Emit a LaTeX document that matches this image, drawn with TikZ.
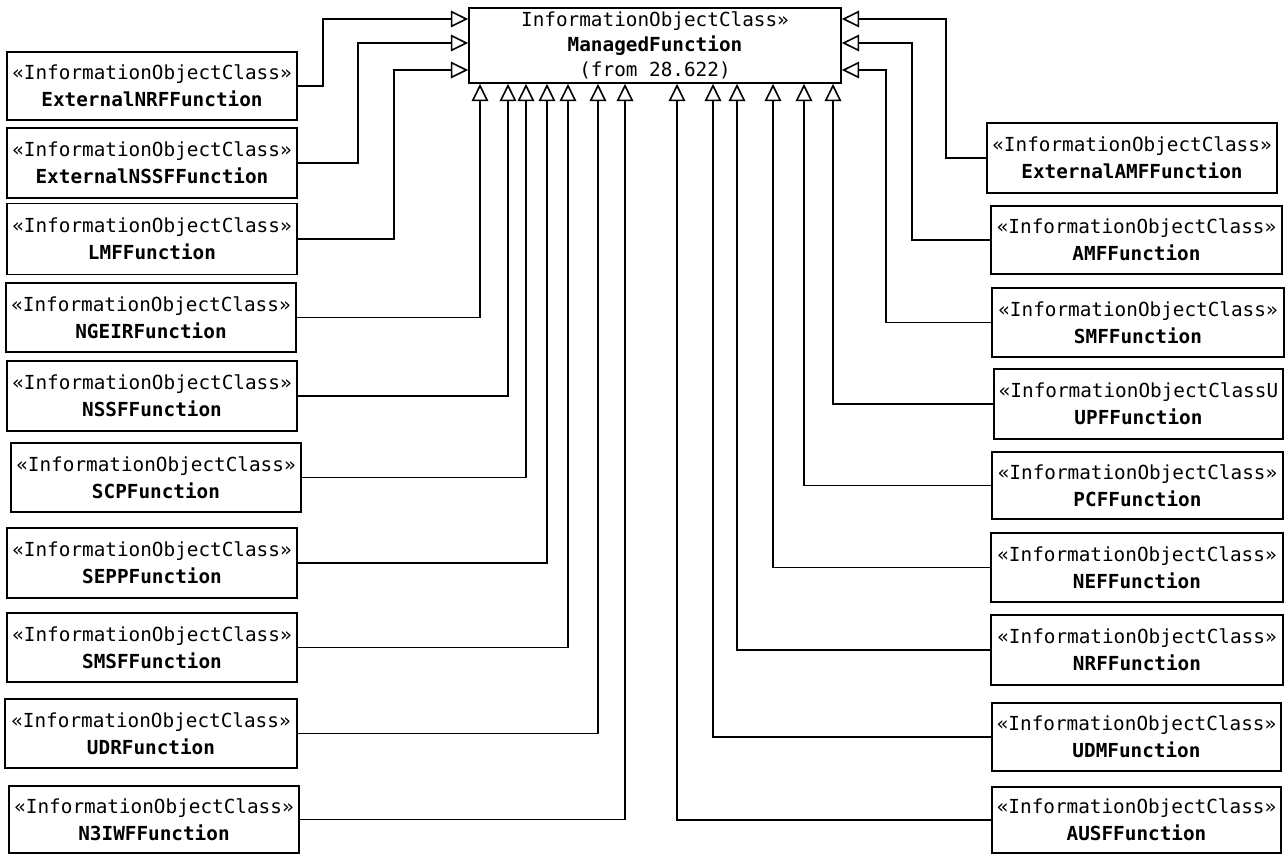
\documentclass[tikz,border=0pt]{standalone}
\usepackage{fontspec}
\setmainfont{DejaVu Sans Mono}
\usetikzlibrary{arrows.meta}
\tikzset{
  cls/.style={draw, line width=1.3pt, fill=white, inner sep=0pt, align=center,
    font=\fontsize{14.5}{20}\selectfont},
  mainbox/.style={draw, line width=1.3pt, fill=white, inner sep=0pt, align=center,
    font=\fontsize{14.5}{18.8}\selectfont},
  inh/.style={line width=1.2pt, -{Triangle[open, length=13pt, width=12.5pt, line width=1.2pt]}},
}
\newcommand{\clsbox}[6]{%
  \node[cls, minimum width=#4*0.75pt, minimum height=#5*0.75pt] (#1) at (#2,#3)
    {«InformationObjectClass»\\\textbf{#6}};}
\newcommand{\clsboxU}[6]{%
  \node[cls, minimum width=#4*0.75pt, minimum height=#5*0.75pt] (#1) at (#2,#3)
    {«InformationObjectClassU\\\textbf{#6}};}
\begin{document}
\begin{tikzpicture}[x=0.75pt, y=-0.75pt]
\useasboundingbox (0,0) rectangle (1288,854);

% central class
\node[mainbox, minimum width=372*0.75pt, minimum height=75*0.75pt] (main) at (655,45.5)
  {InformationObjectClass»\\\textbf{ManagedFunction}\\(from 28.622)};

% left column
\clsbox{extnrf}{152}{86}{290}{68}{ExternalNRFFunction}
\clsbox{extnssf}{152}{163}{290}{70}{ExternalNSSFFunction}
\clsbox{lmf}{152}{239}{290}{71}{LMFFunction}
\clsbox{ngeir}{151}{317.5}{290}{69}{NGEIRFunction}
\clsbox{nssf}{152}{396}{290}{70}{NSSFFunction}
\clsbox{scp}{156}{477.5}{290}{69}{SCPFunction}
\clsbox{sepp}{152}{563}{290}{70}{SEPPFunction}
\clsbox{smsf}{152}{647.5}{290}{69}{SMSFFunction}
\clsbox{udr}{151}{733.5}{292}{69}{UDRFunction}
\clsbox{niwf}{154}{819.5}{290}{67}{N3IWFFunction}

% right column
\clsbox{extamf}{1132}{158}{290}{70}{ExternalAMFFunction}
\clsbox{amf}{1136.5}{240}{291}{68}{AMFFunction}
\clsbox{smf}{1138}{322.5}{292}{69}{SMFFunction}
\clsboxU{upf}{1138.5}{404}{289}{70}{UPFFunction}
\clsbox{pcf}{1137.5}{485.5}{291}{67}{PCFFunction}
\clsbox{nef}{1137}{567.5}{292}{69}{NEFFunction}
\clsbox{nrf}{1137}{650}{292}{70}{NRFFunction}
\clsbox{udm}{1136.5}{737}{289}{68}{UDMFunction}
\clsbox{ausf}{1136.5}{820}{289}{66}{AUSFFunction}

% left-side entries into main
\draw[inh] (extnrf.east) -| (323,19) -- (main.west |- 0,19);
\draw[inh] (extnssf.east) -| (358,43) -- (main.west |- 0,43);
\draw[inh] (lmf.east) -| (394,70) -- (main.west |- 0,70);
% right-side entries into main
\draw[inh] (extamf.west) -| (946,19) -- (main.east |- 0,19);
\draw[inh] (amf.west) -| (912,43) -- (main.east |- 0,43);
\draw[inh] (smf.west) -| (886,70) -- (main.east |- 0,70);

% bottom entries, left
\draw[inh] (ngeir.east) -| (480,0 |- main.south);
\draw[inh] (nssf.east) -| (508,0 |- main.south);
\draw[inh] (scp.east) -| (526,0 |- main.south);
\draw[inh] (sepp.east) -| (547,0 |- main.south);
\draw[inh] (smsf.east) -| (568,0 |- main.south);
\draw[inh] (udr.east) -| (598,0 |- main.south);
\draw[inh] (niwf.east) -| (625,0 |- main.south);
% bottom entries, right
\draw[inh] (ausf.west) -| (677,0 |- main.south);
\draw[inh] (udm.west) -| (713,0 |- main.south);
\draw[inh] (nrf.west) -| (737,0 |- main.south);
\draw[inh] (nef.west) -| (773,0 |- main.south);
\draw[inh] (pcf.west) -| (804,0 |- main.south);
\draw[inh] (upf.west) -| (833,0 |- main.south);
\end{tikzpicture}
\end{document}
